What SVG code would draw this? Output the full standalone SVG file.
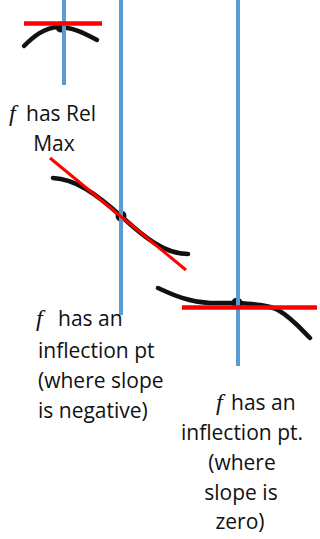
<svg xmlns="http://www.w3.org/2000/svg" width="320" height="539" viewBox="0 0 320 539">
<style>
.curve{fill:none;stroke:#111;stroke-width:4.5;stroke-linecap:round;stroke-linejoin:round}
.dot{fill:#111}
.vline{stroke:#5B9BD5;stroke-width:4}
.tan{stroke:#FF0000;stroke-width:4.5}
.lbl{font-family:"Open Sans","Noto Sans",sans-serif;font-size:21px;fill:#111}
.fx{font-family:"Liberation Serif",serif;font-style:italic;font-size:24px}
</style>
<rect width="320" height="539" fill="#fff"/>
<g id="rel-max">
  <path class="curve" d="M24,46 C34,36 44,28 58,27 C72,27 84,33 97,40"/>
  <circle class="dot" cx="61" cy="27" r="5.5"/>
  <line class="vline" x1="64" y1="0" x2="64" y2="85"/>
  <line class="tan" x1="24" y1="23.5" x2="102" y2="23.5"/>
  <text class="lbl" y="121"><tspan class="fx" x="9">f</tspan><tspan x="26">has Rel</tspan></text>
  <text class="lbl" x="54" y="151" text-anchor="middle">Max</text>
</g>
<g id="inflection-negative">
  <path class="curve" d="M53,178 C75,179 95,193 121,216 C145,238 165,254 188,254"/>
  <circle class="dot" cx="121" cy="216" r="5.5"/>
  <line class="vline" x1="121" y1="0" x2="121" y2="315"/>
  <line class="tan" x1="50" y1="158" x2="186" y2="270" style="stroke-width:3"/>
  <text class="lbl" y="326"><tspan class="fx" x="36">f</tspan><tspan x="58">has an</tspan></text>
  <text class="lbl" x="38" y="357.5">inflection pt</text>
  <text class="lbl" x="38" y="388">(where slope</text>
  <text class="lbl" x="38" y="418">is negative)</text>
</g>
<g id="inflection-zero">
  <path class="curve" d="M158,288 C175,296 190,302 210,303 L237,303 C255,304 268,305 278,310 C292,318 302,330 310,338"/>
  <circle class="dot" cx="237" cy="303" r="5.5"/>
  <line class="vline" x1="238" y1="0" x2="238" y2="366"/>
  <line class="tan" x1="182" y1="307.5" x2="317" y2="307.5"/>
  <text class="lbl" y="410"><tspan class="fx" x="216">f</tspan><tspan x="231">has an</tspan></text>
  <text class="lbl" x="242" y="440" text-anchor="middle">inflection pt.</text>
  <text class="lbl" x="242" y="470" text-anchor="middle">(where</text>
  <text class="lbl" x="241" y="500" text-anchor="middle">slope is</text>
  <text class="lbl" x="240" y="529" text-anchor="middle">zero)</text>
</g>
</svg>
